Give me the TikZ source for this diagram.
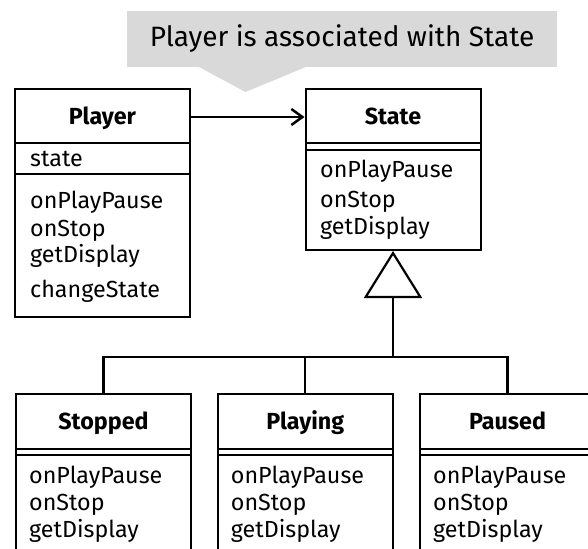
\documentclass[tikz,border=0pt]{standalone}
\usepackage{fontspec}
\setmainfont{Fira Sans}
\usetikzlibrary{arrows.meta}
\definecolor{notegray}{HTML}{D9D9D9}
\tikzset{
  classbox/.style={draw, line width=2pt, minimum width=175pt, inner sep=0pt},
  classtitle/.style={font=\bfseries\fontsize{23.3}{28}\selectfont, inner sep=0pt, anchor=base},
  member/.style={font=\fontsize{23.3}{28}\selectfont, inner sep=0pt, anchor=base west},
  rule/.style={line width=2pt},
  link/.style={line width=2.4pt},
  assoc/.style={link, -{Straight Barb[length=11pt, width=16pt, line width=2.5pt]}},
  gen/.style={link, -{Triangle[open, length=47pt, width=58pt, line width=2.2pt]}},
  notebox/.style={fill=notegray, minimum width=430pt, minimum height=56pt, inner sep=0pt,
    font=\fontsize{28}{33}\selectfont}
}
\begin{document}
\begin{tikzpicture}[x=1pt, y=-1pt]
\useasboundingbox (0,0) rectangle (588,548);
\clip (0,0) rectangle (588,548);

% note with pointer
\node[notebox] (note) at (342,39) {Player is associated with State};
\fill[notegray] (198,66.5) -- (245.5,92) -- (307,66.5) -- cycle;

% Player class
\node[classbox, minimum height=228pt] (player) at (102.5,203) {};
\node[classtitle] (playerT) at (102.5,124.5) {Player};
\draw[rule] (15,143.5) -- (190,143.5);
\draw[rule] (15,174) -- (190,174);
\node[member] at (30,167) {state};
\node[member] at (30,208) {onPlayPause};
\node[member] at (30,236) {onStop};
\node[member] at (30,262) {getDisplay};
\node[member] at (30,297) {changeState};

% State class
\node[classbox, minimum height=161pt] (state) at (393,169.5) {};
\node[classtitle] (stateT) at (393,124.5) {State};
\draw[rule] (305.5,143.5) -- (480.5,143.5);
\draw[rule] (305.5,150) -- (480.5,150);
\node[member] at (320,178) {onPlayPause};
\node[member] at (320,207) {onStop};
\node[member] at (320,234) {getDisplay};

% subclasses
\foreach \nm/\cx/\lbl in {stopped/103.5/Stopped, playing/305.25/Playing, paused/507.5/Paused}{
  \node[classbox, minimum height=176pt] (\nm) at (\cx,482) {};
  \node[classtitle] (\nm T) at (\cx,429) {\lbl};
  \draw[rule] ([xshift=1pt]\nm.west |- 0,449) -- ([xshift=-1pt]\nm.east |- 0,449);
  \draw[rule] ([xshift=1pt]\nm.west |- 0,455) -- ([xshift=-1pt]\nm.east |- 0,455);
  \node[member] at ([xshift=14pt]\nm.west |- 0,483) {onPlayPause};
  \node[member] at ([xshift=14pt]\nm.west |- 0,510) {onStop};
  \node[member] at ([xshift=14pt]\nm.west |- 0,537) {getDisplay};
}

% association
\draw[assoc] (player.east |- 0,117) -- (state.west |- 0,117);

% generalization
\coordinate (bus) at (393,357);
\draw[gen] (bus) -- (state.south);
\draw[link] (stopped.north) -- (stopped.north |- bus) -- (paused.north |- bus) -- (paused.north);
\draw[link] (playing.north) -- (playing.north |- bus);
\end{tikzpicture}
\end{document}
